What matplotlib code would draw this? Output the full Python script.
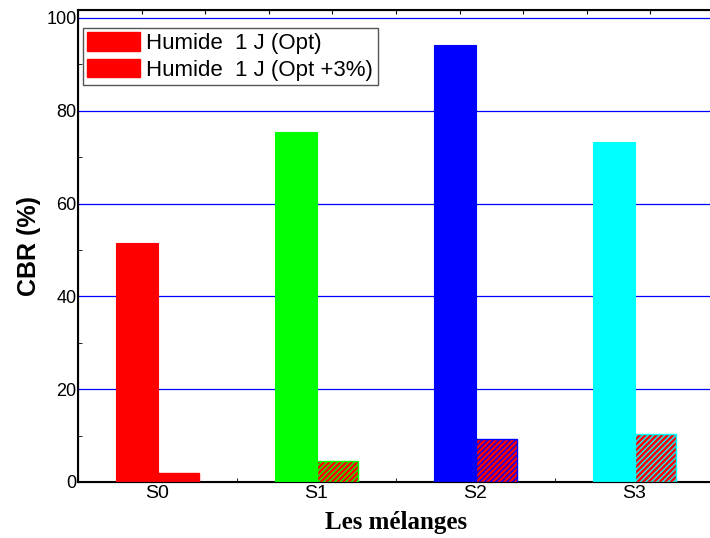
import numpy as np
import matplotlib
matplotlib.use('Agg')
import matplotlib.pyplot as plt
from matplotlib.patches import Patch

# donnees
melanges = ['S0', 'S1', 'S2', 'S3']
cbr_opt = [51.6, 75.4, 94.1, 73.3]
cbr_opt3 = [1.9, 4.6, 9.3, 10.3]
couleurs = ['#ff0000', '#00ff00', '#0000ff', '#00ffff']
legende = ['Humide  1 J (Opt)', 'Humide  1 J (Opt +3%)']

plt.rcParams['font.family'] = ['Liberation Sans', 'DejaVu Sans']
plt.rcParams['hatch.linewidth'] = 1.0

fig = plt.figure(figsize=(7.1, 5.38), dpi=100)
ax = fig.add_axes([78 / 710, 1 - 482 / 538, 636 / 710, 472 / 538])

x = np.arange(len(melanges))
w = 0.26
ax.bar(x - w / 2, cbr_opt, width=w, color=couleurs, edgecolor=couleurs, linewidth=0.8, zorder=3)
for i in range(len(melanges)):
    hatch = None if i == 0 else '//////'
    ax.bar(x[i] + w / 2, cbr_opt3[i], width=w, color='#ff0000',
           edgecolor=couleurs[i], hatch=hatch, linewidth=1.0, zorder=3)

ax.set_xlim(-0.5, 3.5)
ax.set_ylim(0, 101.7)
ax.set_yticks([0, 20, 40, 60, 80, 100])
ax.set_yticks([10, 30, 50, 70, 90], minor=True)
ax.set_xticks(x)
ax.set_xticklabels(melanges)
ax.set_xticks([0.5, 1.5, 2.5], minor=True)
ax.grid(axis='y', which='major', color='#0000ff', linewidth=0.9, zorder=1)
ax.tick_params(axis='both', which='major', direction='in', labelsize=14, length=4, pad=2)
ax.tick_params(axis='y', which='major', length=0, labelsize=13, pad=1)
ax.tick_params(axis='both', which='minor', direction='in', length=3)
for s in ax.spines.values():
    s.set_linewidth(1.5)

# petites graduations en haut
top = ax.twiny()
top.set_xlim(ax.get_xlim())
top.set_xticks(np.arange(-0.1, 3.5, 0.4))
top.tick_params(axis='x', direction='in', length=3, labeltop=False)

ax.set_ylabel('CBR (%)', fontsize=18, fontweight='bold', labelpad=4)
ax.set_xlabel('Les mélanges', fontsize=18, fontweight='bold',
              family='Liberation Serif', labelpad=7)

handles = [Patch(facecolor='#ff0000', edgecolor='#ff0000'),
           Patch(facecolor='#ff0000', edgecolor='#ff0000')]
leg = ax.legend(handles, legende, loc='upper left', fontsize=16,
                bbox_to_anchor=(5 / 636, 1 - 18 / 472), fancybox=False, framealpha=1,
                edgecolor='#555555', handlelength=2.35, handleheight=0.9,
                borderpad=0.2, labelspacing=0.2, handletextpad=0.3, borderaxespad=0)
leg.get_frame().set_linewidth(1.0)

fig.savefig('out.png', dpi=100)
